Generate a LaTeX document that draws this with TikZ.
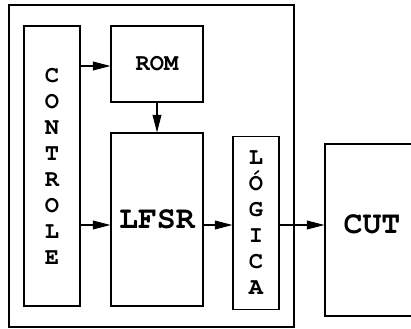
\documentclass[tikz,border=0pt]{standalone}
\usepackage[T1,TU]{fontenc}
\usepackage{tikz}
\usetikzlibrary{arrows.meta}
% bold Courier for the block labels
\newcommand{\crb}{\fontencoding{T1}\fontfamily{pcr}\bfseries\selectfont}

\begin{document}
\begin{tikzpicture}[font=\crb,
  blk/.style={draw, line width=0.6pt, inner sep=0pt},
  seta/.style={-{Triangle[length=10pt,width=5pt]}, line width=0.6pt}]
%\draw[help lines] (0,0) grid (8,6);
\useasboundingbox (0,0) rectangle (8.22,6.58);
\draw [line width=0.6pt] (0.18,0.04) rectangle (5.88,6.48);
\node (ctrl) [blk, minimum width=1.12cm, minimum height=5.6cm, align=center,
  font=\fontsize{13.5}{14.8}\crb] at (1.04,3.26)
  {C\\O\\N\\T\\R\\O\\L\\E};
\node (rom) [blk, minimum width=1.84cm, minimum height=1.52cm,
  font=\fontsize{13.5}{14}\crb] at (3.14,5.30) {ROM};
\node (lfsr) [blk, minimum width=1.84cm, minimum height=3.46cm,
  font=\fontsize{18}{20}\crb] at (3.14,2.19) {LFSR};
\node (logica) [blk, minimum width=0.92cm, minimum height=3.46cm, align=center,
  font=\fontsize{13.5}{14.8}\crb] at (5.12,2.12)
  {L\\\'O\\G\\I\\C\\A};
\node (cut) [blk, minimum width=2.2cm, minimum height=3.44cm] at (7.6,1.98) {};
\node (cuttxt) [font=\fontsize{18}{20}\crb] at (7.44,2.1) {CUT};
\coordinate (bus) at (0,2.08);
\coordinate (top) at (0,5.26);

\path
(ctrl.east |- top) edge [seta] (rom.west |- top)
(rom) edge [seta] (lfsr)
(ctrl.east |- bus) edge [seta] (lfsr.west |- bus)
(lfsr.east |- bus) edge [seta] (logica.west |- bus)
(logica.east |- bus) edge [seta] (cut.west |- bus);
\end{tikzpicture}
\end{document}
